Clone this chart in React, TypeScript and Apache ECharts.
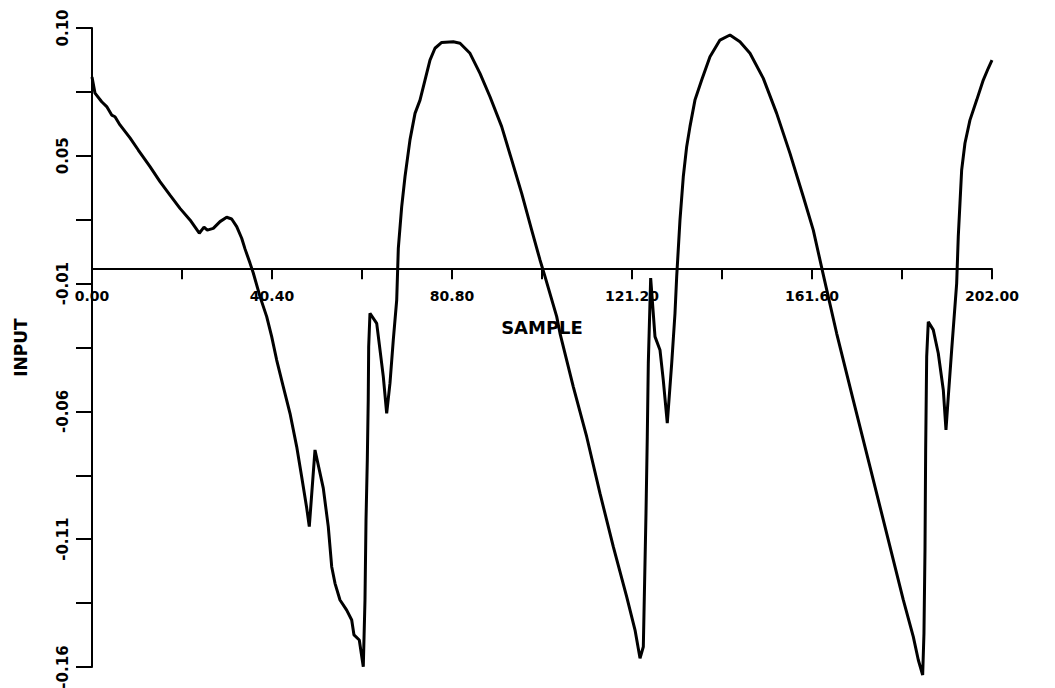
import React, { useEffect, useRef } from "react";
import * as echarts from "echarts";

// Sample index (x) and INPUT value (y)
const SAMPLE_X = [
  0, 0.67, 2.18, 3.3, 4.42, 5.16, 6.28, 8.53, 10.39, 13.02, 15.26, 17.51, 19.75, 22.0, 24.08,
  25.14, 25.88, 27.22, 28.73, 30.23, 31.35, 32.48, 33.6, 34.34, 35.46, 36.2, 37.71, 39.21,
  40.33, 41.45, 42.94, 44.44, 45.94, 47.06, 48.19, 48.77, 50.05, 51.91, 53.03, 53.8, 54.54,
  55.66, 57.16, 58.29, 58.8, 59.99, 60.89, 61.27, 61.5, 61.79, 62.0, 62.1, 62.39, 63.9, 64.64,
  65.38, 66.14, 66.88, 67.62, 68.39, 68.75, 69.51, 70.25, 71.37, 72.5, 73.62, 74.74, 75.86,
  76.98, 78.49, 81.09, 82.6, 84.84, 87.08, 89.33, 91.95, 94.2, 96.44, 98.69, 100.55, 101.68,
  104.3, 105.04, 108.03, 111.03, 114.02, 117.0, 120.0, 121.88, 123.0, 123.74, 124.34, 124.63,
  124.86, 125.39, 126.36, 127.48, 128.22, 129.12, 130.11, 130.85, 131.23, 131.97, 132.71,
  133.47, 134.21, 135.33, 136.84, 138.7, 140.94, 143.19, 145.43, 147.68, 150.67, 153.67,
  156.66, 159.65, 161.89, 164.14, 167.13, 170.86, 174.61, 178.36, 182.09, 184.33, 185.46,
  186.44, 186.73, 186.96, 187.11, 187.34, 187.7, 188.82, 189.94, 191.07, 191.67, 192.19,
  192.95, 194.07, 194.43, 194.81, 195.19, 195.93, 197.05, 198.56, 200.04, 201.16, 202.0,
];
const INPUT_Y = [
  0.0797, 0.073, 0.0694, 0.0674, 0.0639, 0.0632, 0.0598, 0.0544, 0.0494, 0.0425, 0.0363,
  0.0307, 0.0252, 0.0204, 0.0149, 0.0174, 0.0162, 0.0169, 0.0197, 0.0215, 0.0208, 0.0176,
  0.0128, 0.0084, 0.0025, -0.0016, -0.0114, -0.0197, -0.028, -0.0377, -0.0488, -0.0598,
  -0.0736, -0.0861, -0.0991, -0.1068, -0.075, -0.0908, -0.1068, -0.1234, -0.1303, -0.1372,
  -0.1414, -0.1455, -0.1517, -0.1538, -0.1649, -0.1372, -0.104, -0.0792, -0.0543, -0.0322,
  -0.0183, -0.0225, -0.0335, -0.0446, -0.0598, -0.0473, -0.0294, -0.0128, 0.0086, 0.0259,
  0.0383, 0.0536, 0.0646, 0.0701, 0.0784, 0.0867, 0.0916, 0.094, 0.0943, 0.0937, 0.0895,
  0.0812, 0.0715, 0.0591, 0.0453, 0.0314, 0.0162, 0.0038, -0.0031, -0.0197, -0.0266, -0.0488,
  -0.0695, -0.093, -0.1151, -0.1358, -0.1497, -0.1614, -0.1566, -0.1013, -0.0695, -0.0391,
  -0.0037, -0.028, -0.0335, -0.046, -0.0639, -0.0391, -0.0183, -0.0031, 0.0204, 0.0383,
  0.0508, 0.0591, 0.0701, 0.0784, 0.0881, 0.095, 0.0971, 0.0943, 0.0895, 0.0791, 0.0646,
  0.048, 0.03, 0.0162, -0.0024, -0.0266, -0.0543, -0.0819, -0.1096, -0.1372, -0.1524, -0.1621,
  -0.1683, -0.151, -0.1165, -0.075, -0.0363, -0.0218, -0.0252, -0.0349, -0.0501, -0.0667,
  -0.0529, -0.0335, -0.0059, 0.0135, 0.0273, 0.0411, 0.0522, 0.0618, 0.0701, 0.0784, 0.0833,
  0.0867,
];

// Axis ticks and their printed labels
const X_MIN = 0;
const X_MAX = 202;
const X_STEP = 20.2;
const X_TICK_LABELS = ["0.00", "40.40", "80.80", "121.20", "161.60", "202.00"];
const Y_MIN = -0.165;
const Y_MAX = 0.1;
const Y_LABEL_VALUES = [-0.165, -0.112, -0.059, -0.006, 0.047, 0.1];
const Y_TICK_LABELS = ["-0.16", "-0.11", "-0.06", "-0.01", "0.05", "0.10"];
const Y_TICK_VALUES = [
  -0.165, -0.1385, -0.112, -0.0855, -0.059, -0.0325, -0.006, 0.0205, 0.047, 0.0735, 0.1,
];

const FONT = "DejaVu Sans";
const W = 1055;
const H = 688;
const GRID = { left: 92, right: 63, top: 28, bottom: 21 };

export default function App() {
  const ref = useRef<HTMLDivElement>(null);

  useEffect(() => {
    if (!ref.current) return;
    const chart = echarts.init(ref.current, undefined, { renderer: "svg" });
    const data = SAMPLE_X.map((x, i) => [x, INPUT_Y[i]]);
    // x axis sits on the y = 0 line (moved up from the grid's bottom edge)
    const plotH = H - GRID.top - GRID.bottom;
    const zeroOffset = -(plotH * (0 - Y_MIN)) / (Y_MAX - Y_MIN);
    chart.setOption({
      animation: false,
      backgroundColor: "#ffffff",
      grid: { ...GRID, containLabel: false, outerBoundsMode: "none" },
      xAxis: {
        type: "value",
        min: X_MIN,
        max: X_MAX,
        interval: X_STEP,
        position: "bottom",
        offset: zeroOffset,
        name: "SAMPLE",
        nameLocation: "middle",
        nameGap: 49,
        nameTextStyle: { fontFamily: FONT, fontWeight: "bold", fontSize: 18, color: "#000" },
        axisLine: { show: true, onZero: false, lineStyle: { color: "#000", width: 2 } },
        axisTick: { show: true, inside: false, length: 10, lineStyle: { color: "#000", width: 2 } },
        axisLabel: {
          show: true,
          margin: 20,
          showMinLabel: true,
          showMaxLabel: true,
          fontFamily: FONT,
          fontWeight: "bold",
          fontSize: 14,
          color: "#000",
          formatter: (v: number) => {
            const i = Math.round(v / X_STEP);
            return i % 2 === 0 ? X_TICK_LABELS[i / 2] : "";
          },
        },
        splitLine: { show: false },
      },
      yAxis: {
        type: "value",
        min: Y_MIN,
        max: Y_MAX,
        name: "INPUT",
        nameLocation: "middle",
        nameRotate: 90,
        nameGap: 63,
        nameTextStyle: { fontFamily: FONT, fontWeight: "bold", fontSize: 17, color: "#000" },
        axisLine: { show: true, onZero: false, lineStyle: { color: "#000", width: 2 } },
        axisTick: {
          show: true,
          inside: false,
          length: 16,
          customValues: Y_TICK_VALUES,
          lineStyle: { color: "#000", width: 2 },
        },
        axisLabel: {
          show: true,
          rotate: 90,
          margin: 22,
          customValues: Y_LABEL_VALUES,
          fontFamily: FONT,
          fontWeight: "bold",
          fontSize: 15,
          color: "#000",
          formatter: (v: number) => {
            let best = 0;
            for (let i = 1; i < Y_LABEL_VALUES.length; i++) {
              if (Math.abs(Y_LABEL_VALUES[i] - v) < Math.abs(Y_LABEL_VALUES[best] - v)) best = i;
            }
            return Y_TICK_LABELS[best];
          },
        },
        splitLine: { show: false },
      },
      series: [
        {
          type: "line",
          data,
          showSymbol: false,
          symbol: "none",
          clip: false,
          lineStyle: { color: "#000", width: 3 },
          silent: true,
        },
      ],
    });
    return () => chart.dispose();
  }, []);

  return (
    <div
      ref={ref}
      style={{ position: "fixed", left: 0, top: 0, width: W, height: H, background: "#fff" }}
    />
  );
}
